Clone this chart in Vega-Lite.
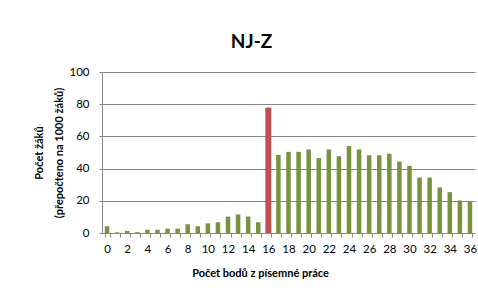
{
  "$schema": "https://vega.github.io/schema/vega-lite/v6.json",
  "autosize": "none",
  "width": 373,
  "height": 161,
  "padding": {"left": 102, "top": 72, "right": 3, "bottom": 55},
  "background": "white",
  "title": {"text": "NJ-Z", "font": "Lato", "fontSize": 19, "fontWeight": "bold", "color": "#000000", "anchor": "middle", "dx": -37, "offset": 14},
  "data": {"values": [
    {"body": 0, "pocet": 4.2}, {"body": 1, "pocet": 0.4}, {"body": 2, "pocet": 1.3}, {"body": 3, "pocet": 0.5},
    {"body": 4, "pocet": 2.0}, {"body": 5, "pocet": 2.0}, {"body": 6, "pocet": 2.7}, {"body": 7, "pocet": 2.7},
    {"body": 8, "pocet": 5.4}, {"body": 9, "pocet": 4.2}, {"body": 10, "pocet": 6.0}, {"body": 11, "pocet": 6.7},
    {"body": 12, "pocet": 10.2}, {"body": 13, "pocet": 11.5}, {"body": 14, "pocet": 10.2}, {"body": 15, "pocet": 6.7},
    {"body": 16, "pocet": 77.9}, {"body": 17, "pocet": 48.5}, {"body": 18, "pocet": 50.4}, {"body": 19, "pocet": 50.4},
    {"body": 20, "pocet": 51.9}, {"body": 21, "pocet": 46.5}, {"body": 22, "pocet": 51.9}, {"body": 23, "pocet": 47.7},
    {"body": 24, "pocet": 54.0}, {"body": 25, "pocet": 51.9}, {"body": 26, "pocet": 48.3}, {"body": 27, "pocet": 48.3},
    {"body": 28, "pocet": 49.2}, {"body": 29, "pocet": 44.4}, {"body": 30, "pocet": 41.7}, {"body": 31, "pocet": 34.4},
    {"body": 32, "pocet": 34.4}, {"body": 33, "pocet": 28.3}, {"body": 34, "pocet": 25.4}, {"body": 35, "pocet": 20.2},
    {"body": 36, "pocet": 19.6}
  ]},
  "mark": {"type": "bar"},
  "encoding": {
    "x": {
      "field": "body", "type": "ordinal",
      "scale": {"paddingInner": 0.5, "paddingOuter": 0.25},
      "axis": {
        "title": "Počet bodů z písemné práce",
        "titleFont": "Lato", "titleFontSize": 11, "titleFontWeight": "bold", "titleColor": "#000000",
        "titleX": 158, "titleY": 40, "titleBaseline": "middle", "titleAnchor": null, "titleAlign": "center",
        "labelAngle": 0, "labelFont": "Lato", "labelFontSize": 11.5, "labelColor": "#000000",
        "labelExpr": "datum.value % 2 == 0 ? datum.label : ''",
        "tickBand": "extent", "tickSize": 4, "tickColor": "#868686",
        "labelPadding": 6, "domainColor": "#868686", "grid": false
      }
    },
    "y": {
      "field": "pocet", "type": "quantitative",
      "scale": {"domain": [0, 100]},
      "axis": {
        "title": ["Počet žáků", "(přepočteno na 1000 žáků)"],
        "titleFont": "Lato", "titleFontSize": 11, "titleFontWeight": "bold", "titleColor": "#000000",
        "titlePadding": 4, "titleLineHeight": 20,
        "values": [0, 20, 40, 60, 80, 100],
        "labelFont": "Lato", "labelFontSize": 11.5, "labelColor": "#000000",
        "tickSize": 3, "tickColor": "#868686", "labelPadding": 10,
        "domainColor": "#868686", "gridColor": "#868686", "gridWidth": 1
      }
    },
    "color": {"condition": {"test": "datum.body == 16", "value": "#C0504D"}, "value": "#77933C"},
    "size": {"condition": {"test": "datum.body == 16", "value": 6}, "value": 4.5}
  },
  "config": {"view": {"stroke": null}}
}
